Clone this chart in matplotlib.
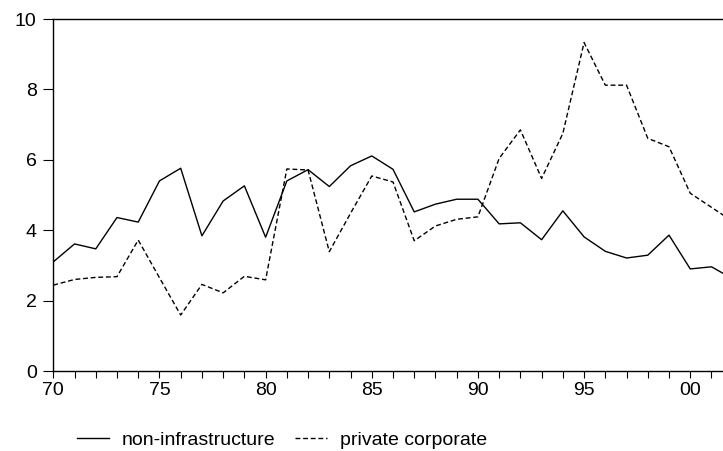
import matplotlib
matplotlib.use("Agg")
import matplotlib.pyplot as plt
from matplotlib.ticker import MultipleLocator

plt.rcParams['font.family'] = ['Liberation Sans', 'DejaVu Sans']

years = list(range(1970, 2003))
non_infra = [3.10, 3.61, 3.47, 4.36, 4.23, 5.40, 5.76, 3.84, 4.83, 5.26,
             3.80, 5.40, 5.72, 5.24, 5.83, 6.11, 5.73, 4.52, 4.74, 4.88,
             4.88, 4.18, 4.21, 3.73, 4.55, 3.81, 3.40, 3.21, 3.29, 3.86,
             2.90, 2.96, 2.62]
private_corp = [2.44, 2.60, 2.66, 2.68, 3.72, 2.65, 1.59, 2.46, 2.22, 2.69,
                2.59, 5.74, 5.71, 3.39, 4.48, 5.54, 5.37, 3.70, 4.12, 4.31,
                4.38, 6.04, 6.85, 5.47, 6.75, 9.33, 8.12, 8.12, 6.61, 6.37,
                5.05, 4.65, 4.25]
xtick_pos = [1970, 1975, 1980, 1985, 1990, 1995, 2000]
xtick_labels = ['70', '75', '80', '85', '90', '95', '00']

fs = 14

fig = plt.figure(figsize=(7.23, 4.51), dpi=100)
ax = fig.add_axes([53.3 / 723, 1 - 371 / 451, 679.4 / 723, 352 / 451])

ax.plot(years, non_infra, color='black', lw=1.0, label='non-infrastructure')
ax.plot(years, private_corp, color='black', lw=1.0, dashes=(3.5, 2),
        label='private corporate')

ax.set_xlim(1970, 2002)
ax.set_ylim(0, 10)
ax.set_xticks(xtick_pos)
ax.set_xticklabels(xtick_labels)
ax.xaxis.set_minor_locator(MultipleLocator(1))
ax.set_yticks([0, 2, 4, 6, 8, 10])

ax.spines['right'].set_visible(False)
for s in ['left', 'top', 'bottom']:
    ax.spines[s].set_linewidth(1.0)

ax.tick_params(axis='x', which='both', direction='out', length=5, width=0.8,
               labelsize=fs, pad=3)
ax.tick_params(axis='y', direction='out', length=7, width=0.8,
               labelsize=fs, pad=5)

fig.legend(loc='center', bbox_to_anchor=(282 / 723, 1 - 440 / 451), ncol=2,
           frameon=False, fontsize=fs, handlelength=1.65, handletextpad=0.65,
           columnspacing=1.0)

fig.savefig('out.png', dpi=100)
